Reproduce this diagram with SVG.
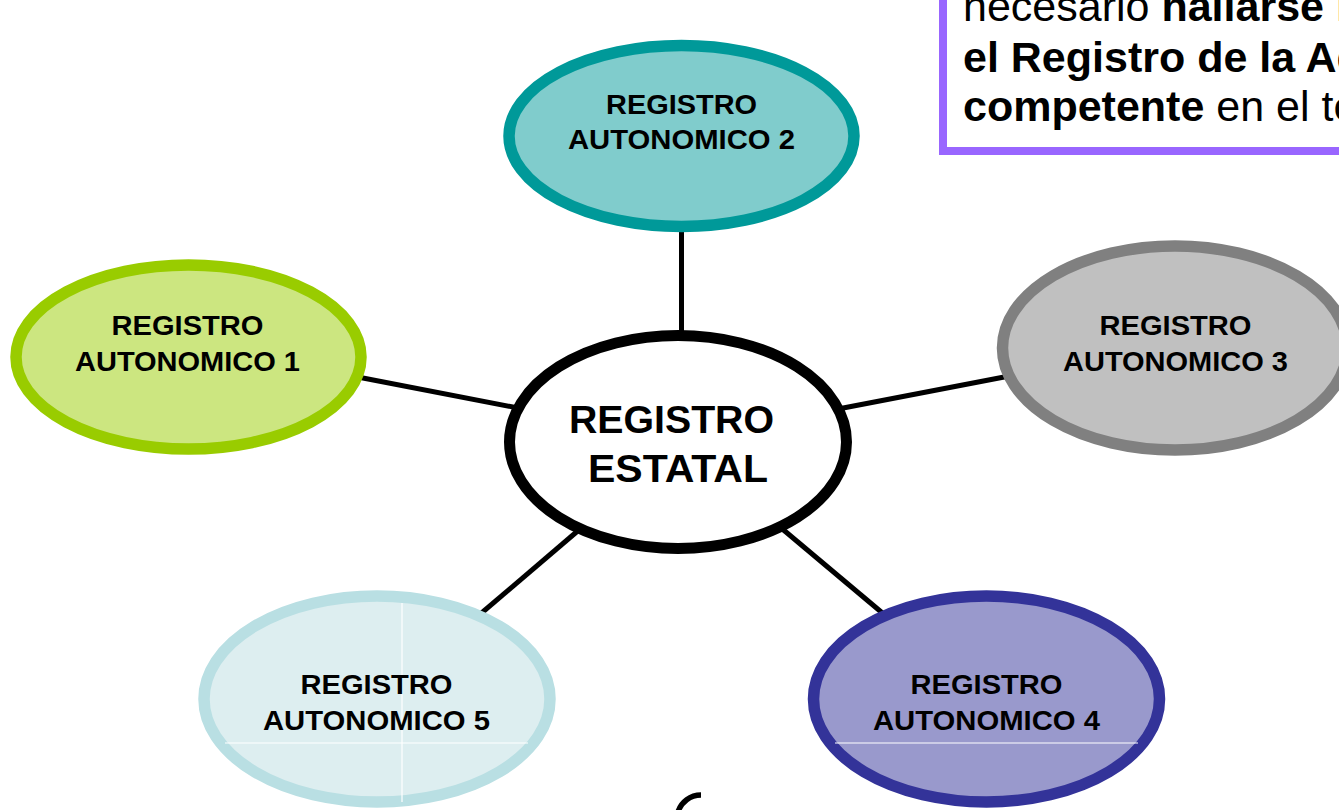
<svg xmlns="http://www.w3.org/2000/svg" width="1339" height="810" viewBox="0 0 1339 810">
<style>
.lbl{font-family:"Liberation Sans",Arial,sans-serif;font-weight:bold;font-size:27.5px;fill:#000;text-anchor:middle}
.big{font-family:"Liberation Sans",Arial,sans-serif;font-weight:bold;font-size:39px;fill:#000;text-anchor:middle}
.note{font-family:"Liberation Sans",Arial,sans-serif;font-size:43px;fill:#000}
.b{font-weight:bold}
.conn{stroke:#000;stroke-width:5;fill:none}
.grid{stroke:#fff;stroke-width:1.2;fill:none}
</style>
<rect width="1339" height="810" fill="#fff"/>
<g id="connectors">
<line class="conn" x1="681.5" y1="225" x2="681.5" y2="336"/>
<line class="conn" x1="350" y1="375.5" x2="518" y2="408"/>
<line class="conn" x1="838" y1="409" x2="1012" y2="375.5"/>
<line class="conn" x1="580" y1="529" x2="478" y2="616"/>
<line class="conn" x1="780" y1="527" x2="886" y2="616"/>
</g>
<g id="note">
<rect x="943" y="-60" width="460" height="211" fill="#fff" stroke="#9966FF" stroke-width="8"/>
<text class="note" x="963" y="21">necesario <tspan class="b">hallarse i</tspan></text>
<text class="note b" x="963" y="72">el Registro de la Ad</text>
<text class="note" x="963" y="121"><tspan class="b">competente</tspan> en el te</text>
</g>
<g id="registro-autonomico-2">
<ellipse cx="681.5" cy="136" rx="172.5" ry="90.5" fill="#80CCCC" stroke="#009999" stroke-width="11.5"/>
<text class="lbl" x="681.5" y="114" textLength="151" lengthAdjust="spacingAndGlyphs">REGISTRO</text>
<text class="lbl" x="681.5" y="149" textLength="227" lengthAdjust="spacingAndGlyphs">AUTONOMICO 2</text>
</g>
<g id="registro-autonomico-1">
<ellipse cx="188.5" cy="357" rx="172.5" ry="92" fill="#CCE680" stroke="#99CC00" stroke-width="11.5"/>
<text class="lbl" x="187.5" y="335" textLength="152" lengthAdjust="spacingAndGlyphs">REGISTRO</text>
<text class="lbl" x="187.5" y="371" textLength="225" lengthAdjust="spacingAndGlyphs">AUTONOMICO 1</text>
</g>
<g id="registro-autonomico-3">
<ellipse cx="1175" cy="348" rx="172.5" ry="102" fill="#C0C0C0" stroke="#808080" stroke-width="11.5"/>
<text class="lbl" x="1175.5" y="335" textLength="152" lengthAdjust="spacingAndGlyphs">REGISTRO</text>
<text class="lbl" x="1175.5" y="371" textLength="225" lengthAdjust="spacingAndGlyphs">AUTONOMICO 3</text>
</g>
<g id="registro-autonomico-5">
<ellipse cx="377" cy="699" rx="173" ry="103" fill="#DDEEF0" stroke="#B9DFE3" stroke-width="11.5"/>
<line class="grid" x1="225" y1="743" x2="528" y2="743"/>
<line class="grid" x1="402" y1="603" x2="402" y2="802"/>
<text class="lbl" x="376.5" y="694" textLength="152" lengthAdjust="spacingAndGlyphs">REGISTRO</text>
<text class="lbl" x="376.5" y="730" textLength="227" lengthAdjust="spacingAndGlyphs">AUTONOMICO 5</text>
</g>
<g id="registro-autonomico-4">
<ellipse cx="986.5" cy="699" rx="173" ry="103" fill="#9999CC" stroke="#333399" stroke-width="11.5"/>
<line class="grid" x1="835" y1="743" x2="1138" y2="743"/>
<text class="lbl" x="986.5" y="694" textLength="152" lengthAdjust="spacingAndGlyphs">REGISTRO</text>
<text class="lbl" x="986.5" y="730" textLength="227" lengthAdjust="spacingAndGlyphs">AUTONOMICO 4</text>
</g>
<g id="registro-estatal">
<ellipse cx="678" cy="442" rx="168.5" ry="106.5" fill="#fff" stroke="#000" stroke-width="11"/>
<text class="big" x="671.5" y="433" textLength="205" lengthAdjust="spacingAndGlyphs">REGISTRO</text>
<text class="big" x="678" y="482" textLength="180" lengthAdjust="spacingAndGlyphs">ESTATAL</text>
</g>
<path d="M 701 795 A 24 24 0 0 0 678 812" fill="none" stroke="#000" stroke-width="5.5"/>
</svg>
